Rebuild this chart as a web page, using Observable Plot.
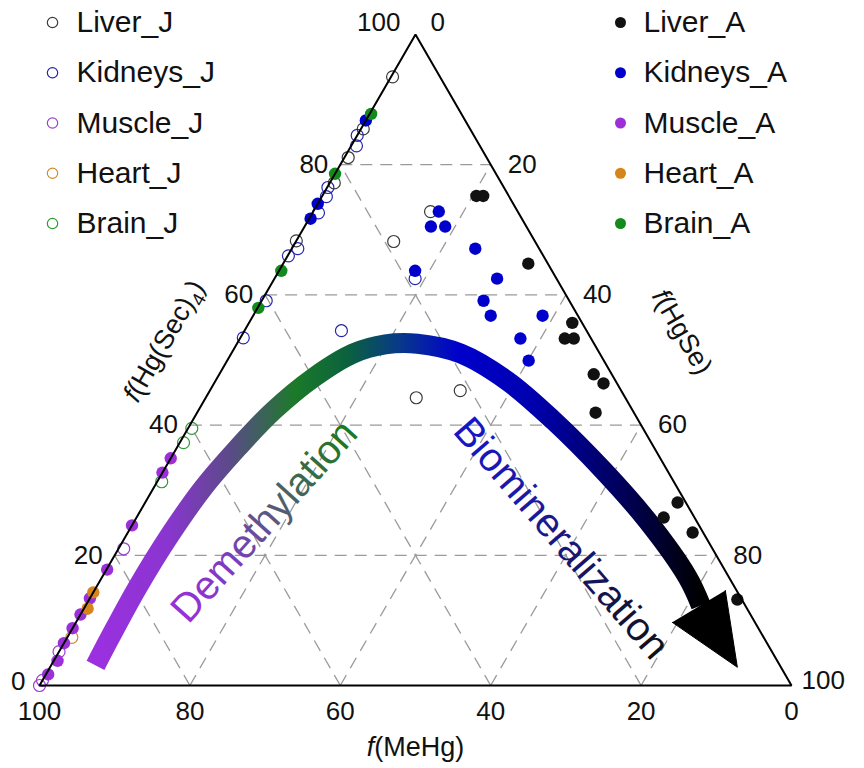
<!DOCTYPE html>
<html>
<head>
<meta charset="utf-8">
<script src="https://cdn.jsdelivr.net/npm/d3@7"></script>
<script src="https://cdn.jsdelivr.net/npm/@observablehq/plot@0.6"></script>
<style>
  body { margin: 0; background: #fff; }
  #chart svg { display: block; }
</style>
</head>
<body>
<div id="chart"></div>
<script>
// ---- Data: each point is [f(MeHg), f(Hg(Sec)4), f(HgSe)] in % ----
const liverJ = [[6.3,93.5,0.2],[14.2,85.5,0.3],[18.4,81.1,0.5],[22.2,77.2,0.6],[31.7,68.3,0],
  [11.6,72.8,15.6],[18.8,68.2,13.0],[21.4,45.3,33.3],[27.8,44.2,28.0]];
const kidneysJ = [[15.5,84.5,0],[16.4,82.9,0.7],[23.4,76.5,0.1],[24.3,75.1,0.6],[26.6,72.6,0.8],
  [32.1,67.1,0.8],[33.9,66.0,0.1],[40.3,59.1,0.6],[46.2,53.4,0.4],[32.6,54.5,12.9],[18.8,62.5,18.7]];
const muscleJ = [[78.3,21.0,0.7],[94.8,5.2,0],[99.2,0.8,0],[100,0,0]];
const heartJ = [[92.0,7.4,0.6]];
const brainJ = [[60.0,39.5,0.5],[62.2,37.3,0.5],[68.1,31.3,0.6]];
const liverA = [[4.3,75.2,20.5],[3.4,75.2,21.4],[2.6,64.8,32.6],[1.3,55.7,43.0],[3.5,53.3,43.2],
  [2.3,53.3,44.4],[2.4,47.8,49.8],[1.8,46.4,51.8],[5.1,41.9,53.0],[1.1,28.1,70.8],[4.1,25.8,70.1],
  [1.4,23.5,75.1],[0.6,13.2,86.2]];
const kidneysA = [[13.2,86.8,0],[26.0,74.0,0],[28.1,71.7,0.2],[10.5,72.8,16.7],[12.7,70.5,16.8],
  [10.8,70.5,18.7],[8.5,67.1,24.4],[18.2,63.7,18.1],[7.9,62.5,29.6],[11.4,59.1,29.5],[11.6,56.8,31.6],
  [4.7,56.8,38.5],[9.4,53.3,37.3],[10.0,49.9,40.1]];
const muscleA = [[65.1,34.9,0],[67.3,32.7,0],[75.4,24.6,0],[82.1,17.8,0.1],[86.6,13.4,0],[89.1,10.9,0],
  [91.2,8.8,0],[93.5,6.5,0],[95.7,3.8,0.5],[98.0,1.7,0.3]];
const heartA = [[85.7,14.3,0],[87.7,11.8,0.5]];
const brainA = [[12.0,87.8,0.2],[21.4,78.6,0],[36.0,63.7,0.3],[41.9,58.0,0.1]];

// Tick labels and grid values
const tickValues = [0, 20, 40, 60, 80, 100];
const gridValues = [20, 40, 60, 80];

// Arrow centre-line (ternary) and arrow head
const arrowPath = [[91.0,3.1,5.9],[86.9,7.4,5.7],[79.4,15.1,5.5],[70.9,23.3,5.8],[63.0,30.4,6.6],
  [55.4,36.5,8.1],[47.8,42.2,10.0],[39.9,47.3,12.8],[32.8,51.0,16.2],[27.8,52.4,19.8],[23.5,52.5,24.0],
  [18.5,51.0,30.5],[14.4,46.8,38.8],[11.3,40.7,48.0],[8.5,33.0,58.5],[6.5,25.3,68.2],[5.5,16.6,77.9],[5.9,12.3,81.8]];
const arrowHead = [[11.0,9.7,79.3],[5.8,2.8,91.4],[1.5,14.6,83.9]];

// Series definitions
const seriesJ = [
  {name: "Liver_J", pts: liverJ, color: "#3a3a3a"},
  {name: "Kidneys_J", pts: kidneysJ, color: "#2525b0"},
  {name: "Muscle_J", pts: muscleJ, color: "#9a40d0"},
  {name: "Heart_J", pts: heartJ, color: "#d08a30"},
  {name: "Brain_J", pts: brainJ, color: "#2e9a3a"}
];
const seriesA = [
  {name: "Liver_A", pts: liverA, color: "#111111"},
  {name: "Kidneys_A", pts: kidneysA, color: "#0000cc"},
  {name: "Muscle_A", pts: muscleA, color: "#9b30d9"},
  {name: "Heart_A", pts: heartA, color: "#d6851a"},
  {name: "Brain_A", pts: brainA, color: "#138a1e"}
];

// ---- ternary -> cartesian ----
const SQ = Math.sqrt(3) / 2;
const X = d => d[2] + d[1] / 2;
const Y = d => d[1] * SQ;

const gridSegs = gridValues.flatMap(v => [
  {p: [100 - v, v, 0], q: [0, v, 100 - v]},
  {p: [v, 0, 100 - v], q: [v, 100 - v, 0]},
  {p: [100 - v, 0, v], q: [0, 100 - v, v]}
]);
const frame = [[100,0,0],[0,100,0],[0,0,100],[100,0,0]];

// legend layout (data units)
const legTop = 88.2, legStep = 6.685;
const legJ = seriesJ.map((s, i) => ({...s, ly: legTop - i * legStep}));
const legA = seriesA.map((s, i) => ({...s, ly: legTop - i * legStep}));

const font = "'Liberation Sans', Arial, sans-serif";
const marks = [];

// grid
marks.push(Plot.link(gridSegs, {
  x1: s => X(s.p), y1: s => Y(s.p), x2: s => X(s.q), y2: s => Y(s.q),
  stroke: "#9a9a9a", strokeWidth: 1.3, strokeDasharray: "12,8"
}));

// arrow
marks.push(Plot.line(arrowPath, {x: X, y: Y, curve: "catmull-rom", stroke: "url(#arrowGrad)",
  strokeWidth: 20, strokeLinecap: "butt"}));
marks.push(Plot.line(arrowHead, {x: X, y: Y, fill: "#000", stroke: "#000", strokeWidth: 1, strokeLinejoin: "miter"}));

// open circles
for (const s of seriesJ) {
  marks.push(Plot.dot(s.pts, {x: X, y: Y, r: 6, stroke: s.color, strokeWidth: 1.2, fill: "none"}));
}
// filled dots
for (const s of seriesA) {
  marks.push(Plot.dot(s.pts, {x: X, y: Y, r: 6.2, fill: s.color, stroke: "none"}));
}

// triangle frame
marks.push(Plot.line(frame, {x: X, y: Y, stroke: "#000", strokeWidth: 2, strokeLinejoin: "miter"}));

// tick labels: bottom (MeHg)
marks.push(Plot.text(tickValues, {x: v => X([v, 0, 100 - v]), y: v => Y([v, 0, 100 - v]), text: v => String(v),
  dy: 26, fontSize: 26, fill: "#111"}));
// left (Hg(Sec)4)
marks.push(Plot.text(tickValues.filter(v => v > 0 && v < 100), {x: v => X([100 - v, v, 0]), y: v => Y([100 - v, v, 0]),
  text: v => String(v), textAnchor: "end", dx: -12, fontSize: 26, fill: "#111"}));
marks.push(Plot.text(tickValues.filter(v => v === 0), {x: v => X([100 - v, v, 0]), y: v => Y([100 - v, v, 0]),
  text: v => String(v), textAnchor: "end", dx: -14, dy: -4, fontSize: 26, fill: "#111"}));
marks.push(Plot.text(tickValues.filter(v => v === 100), {x: v => X([100 - v, v, 0]), y: v => Y([100 - v, v, 0]),
  text: v => String(v), textAnchor: "end", dx: -15, dy: -12, fontSize: 26, fill: "#111"}));
// right (HgSe)
marks.push(Plot.text(tickValues.filter(v => v > 0 && v < 100), {x: v => X([0, 100 - v, v]), y: v => Y([0, 100 - v, v]),
  text: v => String(v), textAnchor: "start", dx: 17, fontSize: 26, fill: "#111"}));
marks.push(Plot.text(tickValues.filter(v => v === 0), {x: v => X([0, 100 - v, v]), y: v => Y([0, 100 - v, v]),
  text: v => String(v), textAnchor: "start", dx: 15, dy: -12, fontSize: 26, fill: "#111"}));
marks.push(Plot.text(tickValues.filter(v => v === 100), {x: v => X([0, 100 - v, v]), y: v => Y([0, 100 - v, v]),
  text: v => String(v), textAnchor: "start", dx: 10, dy: -5, fontSize: 26, fill: "#111"}));

// axis titles
marks.push(Plot.text([[50, 0, 50]], {x: X, y: Y, text: () => "f(MeHg)", dy: 62, fontSize: 27, fill: "#111"}));
marks.push(Plot.text([[52, 48, 0]], {x: X, y: Y, text: () => "f(Hg(Sec)4)", dx: -56, dy: -32, rotate: -60, fontSize: 27, fill: "#111"}));
marks.push(Plot.text([[0, 48, 52]], {x: X, y: Y, text: () => "f(HgSe)", dx: 71, dy: -41, rotate: 60, fontSize: 27, fill: "#111"}));

// process annotations
marks.push(Plot.text([[57.5, 25.2, 17.3]], {x: X, y: Y, text: () => "Demethylation", rotate: -48, fontSize: 40, fill: "url(#demGrad)"}));
marks.push(Plot.text([[19.3, 22.6, 58.1]], {x: X, y: Y, text: () => "Biomineralization", rotate: 49, fontSize: 40, fill: "url(#bioGrad)"}));

// legends
marks.push(Plot.dot(legJ, {x: 1.73, y: "ly", r: 5.2, stroke: "color", strokeWidth: 1.2, fill: "none"}));
marks.push(Plot.text(legJ, {x: 4.92, y: "ly", text: "name", textAnchor: "start", fontSize: 30, fill: "#111"}));
marks.push(Plot.dot(legA, {x: 77.26, y: "ly", r: 5.5, fill: "color"}));
marks.push(Plot.text(legA, {x: 80.32, y: "ly", text: "name", textAnchor: "start", fontSize: 30, fill: "#111"}));

const svg = Plot.plot({
  width: 864,
  height: 768,
  marginLeft: 39, marginRight: 73, marginTop: 34, marginBottom: 83,
  x: {domain: [0, 100], axis: null},
  y: {domain: [0, 100 * SQ], axis: null},
  style: {fontFamily: font, background: "#fff", overflow: "visible"},
  marks
});

// gradients
const defs = document.createElementNS("http://www.w3.org/2000/svg", "defs");
defs.innerHTML = `
<linearGradient id="arrowGrad" x1="0" y1="0" x2="1" y2="0">
  <stop offset="0" stop-color="#9b30e0"/>
  <stop offset="0.12" stop-color="#8a35d0"/>
  <stop offset="0.22" stop-color="#5c4a8a"/>
  <stop offset="0.33" stop-color="#1b7a28"/>
  <stop offset="0.42" stop-color="#0a6040"/>
  <stop offset="0.5" stop-color="#083a88"/>
  <stop offset="0.6" stop-color="#0000cc"/>
  <stop offset="0.72" stop-color="#0000b0"/>
  <stop offset="0.86" stop-color="#000060"/>
  <stop offset="1" stop-color="#000000"/>
</linearGradient>
<linearGradient id="demGrad" x1="0" y1="0" x2="1" y2="0">
  <stop offset="0" stop-color="#9a2fd8"/>
  <stop offset="0.3" stop-color="#7a3cc0"/>
  <stop offset="0.55" stop-color="#575a7a"/>
  <stop offset="0.75" stop-color="#3a6a48"/>
  <stop offset="1" stop-color="#1a7a1a"/>
</linearGradient>
<linearGradient id="bioGrad" x1="0" y1="0" x2="1" y2="0">
  <stop offset="0" stop-color="#1515c8"/>
  <stop offset="0.35" stop-color="#1a1aa0"/>
  <stop offset="0.65" stop-color="#151560"/>
  <stop offset="1" stop-color="#101018"/>
</linearGradient>`;
svg.insertBefore(defs, svg.firstChild);

// italic f and subscript 4
for (const t of svg.querySelectorAll("text")) {
  const s = t.textContent;
  if (s === "f(MeHg)") t.innerHTML = `<tspan font-style="italic">f</tspan>(MeHg)`;
  else if (s === "f(HgSe)") t.innerHTML = `<tspan font-style="italic">f</tspan>(HgSe)`;
  else if (s === "f(Hg(Sec)4)") t.innerHTML = `<tspan font-style="italic">f</tspan>(Hg(Sec)<tspan dy="7" font-size="19">4</tspan><tspan dy="-7">)</tspan>`;
}

document.getElementById("chart").appendChild(svg);
</script>
</body>
</html>
